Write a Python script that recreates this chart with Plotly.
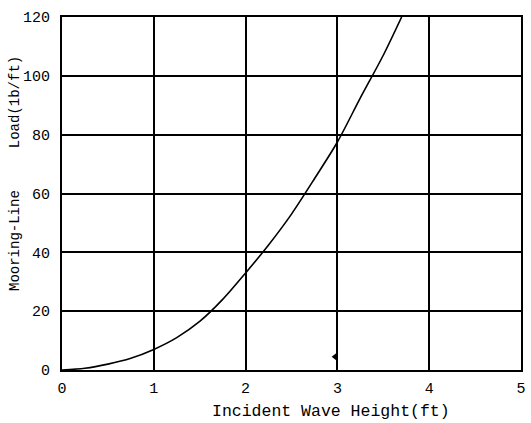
import plotly.graph_objects as go

wave_height = [0, 0.25, 0.5, 0.75, 1.0, 1.25, 1.5, 1.75, 2.0, 2.25, 2.5, 2.75, 3.0, 3.25, 3.5, 3.7]
load = [0, 0.6, 2, 4, 7, 11, 16.5, 24, 33, 42.5, 53, 65, 77.5, 92.5, 107, 120]

x_ticks = [0, 1, 2, 3, 4, 5]
y_ticks = [0, 20, 40, 60, 80, 100, 120]

font_fam = "Liberation Mono, Courier New, monospace"

fig = go.Figure()
fig.add_trace(go.Scatter(x=wave_height, y=load, mode="lines",
                         line=dict(color="black", width=1.6, shape="spline", smoothing=0.8),
                         showlegend=False, hoverinfo="skip"))
# small scan blot near x=3
fig.add_trace(go.Scatter(x=[2.97], y=[4.5], mode="markers",
                         marker=dict(symbol="triangle-left", size=6, color="black"),
                         showlegend=False, hoverinfo="skip"))

fig.update_layout(
    width=531, height=423,
    margin=dict(l=62, r=5, t=17, b=53),
    paper_bgcolor="white", plot_bgcolor="white",
    font=dict(family=font_fam, color="black", size=15),
    xaxis=dict(range=[0, 5], tickvals=x_ticks, ticktext=[str(v) for v in x_ticks],
               showgrid=True, gridcolor="black", gridwidth=2,
               showline=True, linecolor="black", linewidth=2, mirror=True,
               zeroline=False, ticks="", ticklabelstandoff=3),
    yaxis=dict(range=[0, 120], tickvals=y_ticks, ticktext=[str(v) for v in y_ticks],
               showgrid=True, gridcolor="black", gridwidth=2,
               showline=True, linecolor="black", linewidth=2, mirror=True,
               zeroline=False, ticks="", ticklabelstandoff=7),
    annotations=[
        dict(text="Incident Wave Height(ft)", xref="paper", yref="paper",
             x=0.586, y=-0.117, xanchor="center", yanchor="middle",
             showarrow=False, font=dict(size=16.5)),
        dict(text="Mooring-Line\u00a0\u00a0\u00a0\u00a0\u00a0Load(1b/ft)", xref="paper", yref="paper",
             x=-0.101, y=0.557, xanchor="center", yanchor="middle", textangle=-90,
             showarrow=False, font=dict(size=14)),
    ],
)

fig.write_html("out.html")
